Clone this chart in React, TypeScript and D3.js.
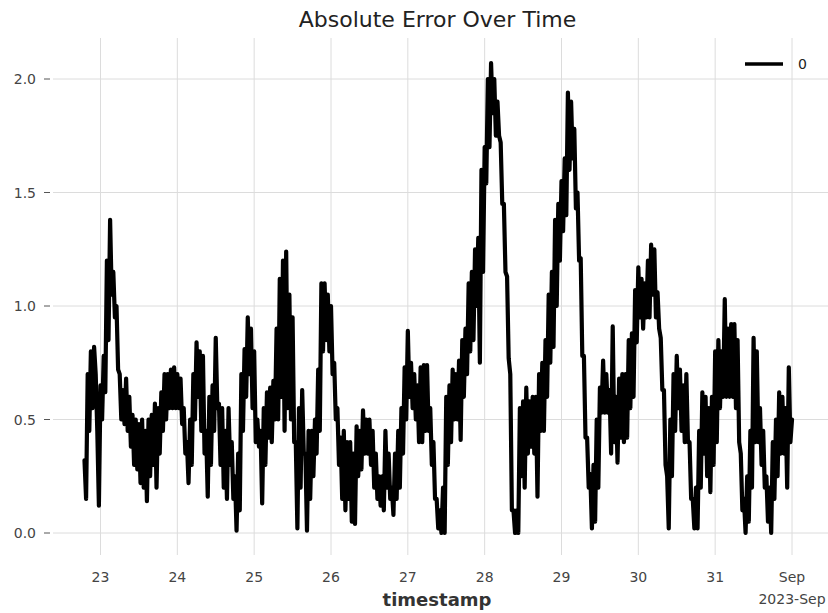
import React from "react";
import * as d3 from "d3";

// Absolute error every 30 minutes, starting 2023-08-22 19:00
const startTime = { year: 2023, month: 7, day: 22, hour: 19 };
const stepMinutes = 30;
const errorValues: number[] = [
  0.32, 0.15, 0.70, 0.45, 0.80, 0.55, 0.82, 0.70, 0.45, 0.12,
  0.65, 0.50, 0.78, 0.62, 1.20, 0.85, 1.38, 1.05, 1.15, 0.95,
  1.00, 0.72, 0.70, 0.50, 0.63, 0.48, 0.68, 0.45, 0.60, 0.38,
  0.52, 0.30, 0.50, 0.28, 0.48, 0.22, 0.50, 0.20, 0.45, 0.14,
  0.50, 0.25, 0.52, 0.30, 0.57, 0.20, 0.55, 0.35, 0.62, 0.45,
  0.70, 0.50, 0.70, 0.55, 0.72, 0.55, 0.73, 0.55, 0.70, 0.55,
  0.68, 0.48, 0.55, 0.35, 0.40, 0.22, 0.50, 0.30, 0.70, 0.50,
  0.84, 0.60, 0.80, 0.45, 0.78, 0.35, 0.45, 0.16, 0.60, 0.30,
  0.65, 0.45, 0.86, 0.55, 0.57, 0.30, 0.55, 0.20, 0.45, 0.15,
  0.55, 0.30, 0.40, 0.15, 0.25, 0.01, 0.35, 0.10, 0.70, 0.45,
  0.81, 0.60, 0.95, 0.70, 0.90, 0.55, 0.80, 0.40, 0.50, 0.38,
  0.45, 0.13, 0.55, 0.30, 0.62, 0.42, 0.64, 0.40, 0.67, 0.50,
  0.90, 0.50, 1.12, 0.60, 1.20, 0.45, 1.24, 0.55, 1.05, 0.50,
  0.95, 0.40, 0.40, 0.02, 0.55, 0.20, 0.63, 0.35, 0.35, 0.01,
  0.45, 0.15, 0.45, 0.25, 0.50, 0.35, 0.72, 0.45, 1.10, 0.80,
  1.10, 0.85, 1.05, 0.80, 1.00, 0.70, 0.75, 0.50, 0.55, 0.30,
  0.42, 0.15, 0.45, 0.10, 0.40, 0.15, 0.40, 0.05, 0.35, 0.04,
  0.47, 0.25, 0.45, 0.28, 0.54, 0.35, 0.50, 0.35, 0.50, 0.30,
  0.45, 0.20, 0.35, 0.15, 0.25, 0.12, 0.25, 0.10, 0.45, 0.20,
  0.35, 0.15, 0.20, 0.08, 0.35, 0.15, 0.45, 0.20, 0.55, 0.35,
  0.73, 0.50, 0.89, 0.60, 0.75, 0.55, 0.70, 0.50, 0.65, 0.40,
  0.73, 0.40, 0.74, 0.45, 0.74, 0.45, 0.55, 0.30, 0.40, 0.15,
  0.15, 0.02, 0.10, 0.00, 0.20, 0.00, 0.60, 0.30, 0.65, 0.40,
  0.72, 0.50, 0.70, 0.50, 0.76, 0.41, 0.85, 0.60, 0.90, 0.70,
  1.10, 0.80, 1.15, 0.85, 1.25, 1.00, 1.30, 0.75, 1.60, 1.15,
  1.70, 1.54, 2.00, 1.70, 2.07, 1.85, 2.00, 1.75, 1.90, 1.75,
  1.72, 1.45, 1.45, 1.15, 1.13, 0.77, 0.70, 0.10, 0.10, 0.00,
  0.10, 0.00, 0.55, 0.25, 0.58, 0.20, 0.64, 0.35, 0.58, 0.38,
  0.60, 0.35, 0.60, 0.16, 0.70, 0.45, 0.75, 0.45, 0.85, 0.60,
  1.05, 0.75, 1.15, 0.82, 1.38, 1.00, 1.45, 1.20, 1.55, 1.33,
  1.65, 1.40, 1.94, 1.60, 1.90, 1.65, 1.78, 1.43, 1.50, 1.20,
  1.21, 0.78, 0.78, 0.42, 0.42, 0.20, 0.26, 0.02, 0.30, 0.05,
  0.50, 0.20, 0.64, 0.53, 0.76, 0.53, 0.70, 0.53, 0.63, 0.35,
  0.91, 0.40, 0.60, 0.31, 0.68, 0.42, 0.70, 0.40, 0.70, 0.42,
  0.85, 0.55, 0.88, 0.60, 1.07, 0.84, 1.17, 0.95, 1.12, 0.90,
  1.10, 0.95, 1.20, 0.95, 1.27, 1.05, 1.25, 0.95, 1.06, 0.90,
  0.86, 0.63, 0.63, 0.30, 0.25, 0.02, 0.50, 0.25, 0.70, 0.45,
  0.78, 0.55, 0.72, 0.45, 0.65, 0.40, 0.70, 0.40, 0.40, 0.15,
  0.15, 0.02, 0.20, 0.02, 0.45, 0.20, 0.62, 0.35, 0.60, 0.25,
  0.55, 0.18, 0.60, 0.30, 0.80, 0.40, 0.85, 0.55, 0.80, 0.60,
  1.03, 0.60, 0.90, 0.60, 0.92, 0.60, 0.92, 0.55, 0.85, 0.40,
  0.35, 0.10, 0.15, 0.00, 0.25, 0.05, 0.45, 0.20, 0.86, 0.40,
  0.80, 0.40, 0.55, 0.30, 0.45, 0.20, 0.25, 0.05, 0.20, 0.00,
  0.40, 0.15, 0.50, 0.25, 0.62, 0.35, 0.60, 0.35, 0.55, 0.20,
  0.73, 0.40, 0.50,
];

const xTickDays: number[] = [23, 24, 25, 26, 27, 28, 29, 30, 31, 32];
const xTickLabels: string[] = ["23", "24", "25", "26", "27", "28", "29", "30", "31", "Sep"];
const yTickValues: number[] = [0, 0.5, 1.0, 1.5, 2.0];
const yTickLabels: string[] = ["0.0", "0.5", "1.0", "1.5", "2.0"];
const legendLabels: string[] = ["0"];

const W = 828;
const H = 613;
const plot = { left: 53, right: 828, top: 38, bottom: 555 };
const FONT = "'DejaVu Sans', sans-serif";

export default function App() {
  const data = errorValues.map((v, i) => ({
    t: new Date(
      startTime.year,
      startTime.month,
      startTime.day,
      startTime.hour,
      i * stepMinutes
    ),
    v,
  }));

  const x = d3
    .scaleTime()
    .domain([new Date(2023, 7, 23), new Date(2023, 8, 1)])
    .range([100.5, 792]);
  const y = d3.scaleLinear().domain([0, 2]).range([533, 79]);

  const line = d3
    .line<{ t: Date; v: number }>()
    .x((d) => x(d.t))
    .y((d) => y(d.v));

  const tickDates = xTickDays.map((d) => new Date(2023, 7, d));

  return (
    <svg
      width={W}
      height={H}
      style={{ position: "absolute", left: 0, top: 0, background: "#fff" }}
      fontFamily={FONT}
    >
      <rect x={0} y={0} width={W} height={H} fill="#fff" />
      {yTickValues.map((v, i) => (
        <line
          key={"gy" + i}
          x1={plot.left}
          x2={plot.right}
          y1={y(v)}
          y2={y(v)}
          stroke="#dcdcdc"
          strokeWidth={1}
        />
      ))}
      {tickDates.map((d, i) => (
        <line
          key={"gx" + i}
          x1={x(d)}
          x2={x(d)}
          y1={plot.top}
          y2={plot.bottom}
          stroke="#dcdcdc"
          strokeWidth={1}
        />
      ))}
      {yTickValues.map((v, i) => (
        <g key={"yt" + i}>
          <line x1={44} x2={50} y1={y(v)} y2={y(v)} stroke="#555" strokeWidth={1} />
          <text x={36} y={y(v)} dy="0.36em" textAnchor="end" fontSize={14} fill="#444">
            {yTickLabels[i]}
          </text>
        </g>
      ))}
      {tickDates.map((d, i) => (
        <text key={"xt" + i} x={x(d)} y={582} textAnchor="middle" fontSize={14} fill="#444">
          {xTickLabels[i]}
        </text>
      ))}
      <text x={x(tickDates[tickDates.length - 1])} y={604} textAnchor="middle" fontSize={14} fill="#444">
        2023-Sep
      </text>
      <text x={437} y={606} textAnchor="middle" fontSize={18} fontWeight="bold" fill="#333">
        timestamp
      </text>
      <text x={437.5} y={27} textAnchor="middle" fontSize={22} fill="#222">
        Absolute Error Over Time
      </text>
      <path
        d={line(data) || ""}
        fill="none"
        stroke="#000"
        strokeWidth={4.2}
        strokeLinejoin="round"
        strokeLinecap="round"
      />
      <line x1={745} x2={783} y1={64} y2={64} stroke="#000" strokeWidth={3.6} />
      <text x={798} y={64} dy="0.36em" fontSize={14} fill="#222">
        {legendLabels[0]}
      </text>
    </svg>
  );
}
